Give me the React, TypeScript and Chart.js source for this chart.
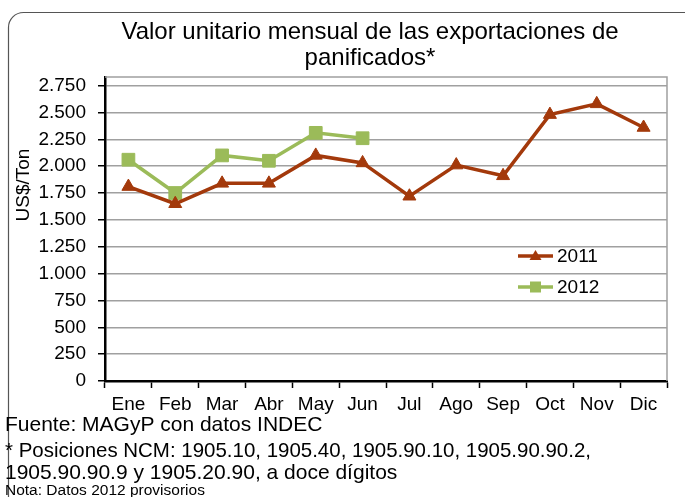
import React, { useEffect, useRef } from "react";
import { Chart, registerables } from "chart.js";

Chart.register(...registerables);

const months = ["Ene", "Feb", "Mar", "Abr", "May", "Jun", "Jul", "Ago", "Sep", "Oct", "Nov", "Dic"];
const values2011 = [1810, 1650, 1840, 1840, 2100, 2030, 1720, 2010, 1910, 2480, 2580, 2360];
const values2012 = [2060, 1750, 2100, 2050, 2310, 2260, null, null, null, null, null, null];
const seriesNames = ["2011", "2012"];
const yTickValues = [0, 250, 500, 750, 1000, 1250, 1500, 1750, 2000, 2250, 2500, 2750];
const titleLines = ["Valor unitario mensual de las exportaciones de", "panificados*"];
const yTitle = "US$/Ton";
const footerLines = [
  "Fuente: MAGyP con datos INDEC",
  "* Posiciones NCM: 1905.10, 1905.40, 1905.90.10, 1905.90.90.2,",
  "1905.90.90.9 y 1905.20.90, a doce dígitos",
];
const noteLine = "Nota: Datos 2012 provisorios";

const COLOR_2011 = "#A3390B";
const COLOR_2012 = "#9BBB59";
const FONT = "'Liberation Sans', Arial, sans-serif";

function fmt(v: number) {
  return String(v).replace(/\B(?=(\d{3})+(?!\d))/g, ".");
}

const decorPlugin = {
  id: "decor",
  beforeDatasetsDraw(chart: any) {
    const { ctx, chartArea } = chart;
    ctx.save();
    ctx.strokeStyle = "#a0a0a0";
    ctx.lineWidth = 1.5;
    ctx.beginPath();
    ctx.moveTo(chartArea.left, chartArea.top);
    ctx.lineTo(chartArea.right, chartArea.top);
    ctx.lineTo(chartArea.right, chartArea.bottom);
    ctx.stroke();
    ctx.restore();
  },
  afterDraw(chart: any) {
    const { ctx } = chart;
    ctx.save();
    // outer frame
    ctx.strokeStyle = "#555";
    ctx.lineWidth = 1.2;
    ctx.beginPath();
    (ctx as any).roundRect(8.5, 12.5, 700, 500, 15);
    ctx.stroke();

    // title
    ctx.fillStyle = "#000";
    ctx.font = `24px ${FONT}`;
    ctx.textAlign = "center";
    ctx.textBaseline = "alphabetic";
    ctx.fillText(titleLines[0], 370, 39);
    ctx.fillText(titleLines[1], 370, 65);

    // y axis title
    ctx.save();
    ctx.translate(29, 185);
    ctx.rotate(-Math.PI / 2);
    ctx.font = `19px ${FONT}`;
    ctx.textAlign = "center";
    ctx.textBaseline = "alphabetic";
    ctx.fillText(yTitle, 0, 0);
    ctx.restore();

    // footer
    ctx.textAlign = "left";
    ctx.font = `21px ${FONT}`;
    ctx.fillText(footerLines[0], 5, 431);
    ctx.fillText(footerLines[1], 5, 457, 586);
    ctx.fillText(footerLines[2], 5, 479);
    ctx.font = `15.5px ${FONT}`;
    ctx.fillText(noteLine, 5, 495);

    // legend
    const items = [
      { label: seriesNames[0], color: COLOR_2011, shape: "tri", y: 256 },
      { label: seriesNames[1], color: COLOR_2012, shape: "sq", y: 287 },
    ];
    items.forEach((it) => {
      ctx.strokeStyle = it.color;
      ctx.fillStyle = it.color;
      ctx.lineWidth = 3.5;
      ctx.beginPath();
      ctx.moveTo(518, it.y);
      ctx.lineTo(553, it.y);
      ctx.stroke();
      const cx = 535.5;
      ctx.beginPath();
      if (it.shape === "tri") {
        ctx.moveTo(cx, it.y - 6);
        ctx.lineTo(cx + 6, it.y + 4);
        ctx.lineTo(cx - 6, it.y + 4);
        ctx.closePath();
      } else {
        ctx.rect(cx - 5.5, it.y - 5.5, 11, 11);
      }
      ctx.fill();
      ctx.fillStyle = "#000";
      ctx.font = `19px ${FONT}`;
      ctx.textAlign = "left";
      ctx.textBaseline = "middle";
      ctx.fillText(it.label, 557, it.y + 1);
    });
    ctx.restore();
  },
};

export default function App() {
  const ref = useRef<HTMLCanvasElement | null>(null);
  useEffect(() => {
    if (!ref.current) return;
    const chart = new Chart(ref.current, {
      type: "line",
      data: {
        labels: months,
        datasets: [
          {
            label: seriesNames[0],
            data: values2011,
            borderColor: COLOR_2011,
            backgroundColor: COLOR_2011,
            borderWidth: 3.5,
            pointStyle: "triangle",
            pointRadius: 7.5,
            pointBorderWidth: 1,
            tension: 0,
          },
          {
            label: seriesNames[1],
            data: values2012,
            borderColor: COLOR_2012,
            backgroundColor: COLOR_2012,
            borderWidth: 3.5,
            pointStyle: "rect",
            pointRadius: 9,
            pointBorderWidth: 1,
            tension: 0,
            spanGaps: false,
          },
        ],
      },
      options: {
        responsive: false,
        animation: false,
        devicePixelRatio: 1,
        layout: { padding: { left: 0, right: 18, top: 77, bottom: 66 } },
        plugins: {
          legend: { display: false },
          title: { display: false },
          tooltip: { enabled: false },
        },
        scales: {
          x: {
            offset: true,
            afterFit: (s: any) => {
              s.height = 50;
            },
            grid: {
              offset: true,
              drawOnChartArea: false,
              drawTicks: true,
              tickLength: 7,
              tickColor: "#000",
              tickWidth: 1.5,
            },
            border: { color: "#000", width: 2.5 },
            ticks: {
              autoSkip: false,
              maxRotation: 0,
              padding: 5,
              color: "#000",
              font: { family: FONT, size: 19 },
            },
          },
          y: {
            min: 0,
            max: 2830,
            afterFit: (s: any) => {
              s.width = 105;
            },
            afterBuildTicks: (s: any) => {
              s.ticks = yTickValues.map((v) => ({ value: v }));
            },
            grid: {
              color: "#a0a0a0",
              lineWidth: 1.5,
              drawTicks: true,
              tickLength: 7,
              tickColor: "#000",
              tickWidth: 1.5,
            },
            border: { color: "#000", width: 2.5 },
            ticks: {
              stepSize: 250,
              padding: 12,
              color: "#000",
              font: { family: FONT, size: 19 },
              callback: (v: any) => fmt(Number(v)),
            },
          },
        },
      },
      plugins: [decorPlugin],
    });
    return () => chart.destroy();
  }, []);
  return (
    <div style={{ position: "fixed", left: 0, top: 0, width: 685, height: 497, background: "#fff" }}>
      <canvas ref={ref} width={685} height={497} style={{ display: "block" }} />
    </div>
  );
}
